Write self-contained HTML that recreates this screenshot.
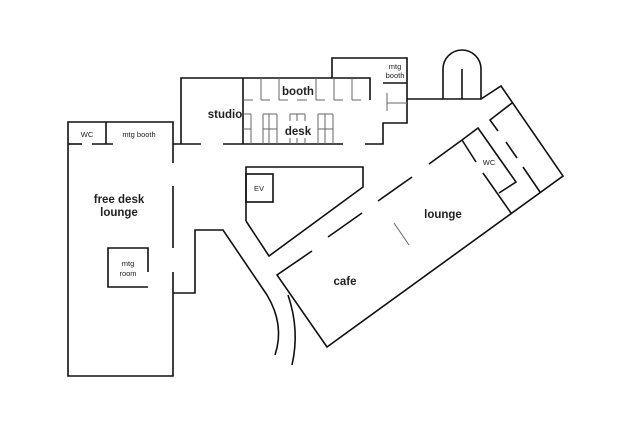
<!DOCTYPE html>
<html><head><meta charset="utf-8"><style>
html,body{margin:0;padding:0;background:#fff;}
svg{display:block}
text{font-family:"Liberation Sans",sans-serif;fill:#222;text-anchor:middle}
</style></head><body>
<svg width="640" height="439" viewBox="0 0 640 439" xmlns="http://www.w3.org/2000/svg">
<g fill="none" stroke="#111" stroke-width="1.6" stroke-linejoin="miter">
<!-- left building -->
<polyline points="173,163 173,122 68,122 68,376 173,376 173,272"/>
<line x1="173" y1="186" x2="173" y2="248"/>
<line x1="106" y1="122" x2="106" y2="144"/>
<line x1="68" y1="144" x2="82" y2="144"/>
<line x1="92" y1="144" x2="113" y2="144"/>
<polyline points="148,272 148,248 108,248 108,287 148,287"/>
<!-- studio/booth/desk -->
<line x1="173" y1="144" x2="201" y2="144"/>
<line x1="223" y1="144" x2="343" y2="144"/>
<polyline points="181,144 181,78 370,78 370,100"/>
<line x1="243" y1="78" x2="243" y2="144"/>
<polyline points="332,78 332,58 407,58 407,123 383,123 383,144 365,144"/>
<line x1="383" y1="83" x2="407" y2="83"/>
<polyline points="407,99 443,99"/>
<path d="M443,99 V69 A19,19 0 0 1 481,69 V99 Z"/>
<line x1="462" y1="69" x2="462" y2="99"/>
<polyline points="481,99 501,86 563,176 327,347 277,275 312,251"/>
<!-- EV area -->
<polyline points="246,221 246,167 363,167 363,187 269,256 246,221"/>
<rect x="246" y="174" width="27" height="28"/>
<!-- dashed long wall -->
<line x1="328" y1="237" x2="362" y2="213"/>
<line x1="378" y1="201" x2="412" y2="177"/>
<line x1="429" y1="164" x2="462" y2="140"/>
<!-- WC -->
<polyline points="462,140 478,128 516,182 499,193"/>
<line x1="462" y1="140" x2="476" y2="162"/>
<line x1="483" y1="173" x2="511" y2="213"/>
<polyline points="498,131 490,120 512,103"/>
<line x1="506" y1="142" x2="517" y2="158"/>
<line x1="523" y1="167" x2="540" y2="192"/>
<!-- corridor -->
<polyline points="173,293 195,293 195,230 223,230 267,295"/>
<path d="M267,295 Q285,325 275,355"/>
<path d="M288,295 Q300,330 292,365"/>
</g>
<g stroke="#666" stroke-width="1" fill="none">
<line x1="394" y1="223" x2="409" y2="245"/>
<line x1="261" y1="78" x2="261" y2="100"/><line x1="279" y1="78" x2="279" y2="100"/>
<line x1="316" y1="78" x2="316" y2="100"/><line x1="334" y1="78" x2="334" y2="100"/>
<line x1="352" y1="78" x2="352" y2="100"/>
<line x1="243" y1="100" x2="253" y2="100"/><line x1="261" y1="100" x2="270" y2="100"/>
<line x1="279" y1="100" x2="288" y2="100"/><line x1="297" y1="100" x2="307" y2="100"/>
<line x1="316" y1="100" x2="325" y2="100"/><line x1="334" y1="100" x2="343" y2="100"/>
<line x1="352" y1="100" x2="361" y2="100"/>
<line x1="251" y1="114" x2="251" y2="144"/>
<line x1="263" y1="114" x2="263" y2="144"/><line x1="269" y1="114" x2="269" y2="144"/><line x1="277" y1="114" x2="277" y2="144"/>
<line x1="290" y1="114" x2="290" y2="121"/><line x1="297" y1="114" x2="297" y2="121"/><line x1="305" y1="114" x2="305" y2="121"/>
<line x1="290" y1="138" x2="290" y2="144"/><line x1="297" y1="138" x2="297" y2="144"/><line x1="305" y1="138" x2="305" y2="144"/>
<line x1="318" y1="114" x2="318" y2="144"/><line x1="325" y1="114" x2="325" y2="144"/><line x1="333" y1="114" x2="333" y2="144"/>
<line x1="243" y1="114" x2="251" y2="114"/><line x1="243" y1="129" x2="251" y2="129"/>
<line x1="263" y1="114" x2="277" y2="114"/><line x1="263" y1="129" x2="277" y2="129"/>
<line x1="290" y1="114" x2="305" y2="114"/>
<line x1="318" y1="114" x2="333" y2="114"/><line x1="318" y1="129" x2="333" y2="129"/>
<line x1="387" y1="93" x2="387" y2="111"/><line x1="387" y1="103" x2="407" y2="103"/>
</g>
<text x="225" y="118" font-size="11.5" font-weight="bold">studio</text>
<text x="298" y="95" font-size="11.5" font-weight="bold">booth</text>
<text x="298" y="135" font-size="11.5" font-weight="bold">desk</text>
<text x="395" y="69" font-size="7.5">mtg</text>
<text x="395" y="78" font-size="7.5">booth</text>
<text x="87" y="137" font-size="7.5">WC</text>
<text x="139" y="137" font-size="7.5">mtg booth</text>
<text x="119" y="203" font-size="11.5" font-weight="bold">free desk</text>
<text x="119" y="216" font-size="11.5" font-weight="bold">lounge</text>
<text x="128" y="266" font-size="7.5">mtg</text>
<text x="128" y="276" font-size="7.5">room</text>
<text x="259" y="191" font-size="7.5">EV</text>
<text x="489" y="165" font-size="7.5">WC</text>
<text x="443" y="218" font-size="11.5" font-weight="bold">lounge</text>
<text x="345" y="285" font-size="11.5" font-weight="bold">cafe</text>
</svg>
</body></html>
